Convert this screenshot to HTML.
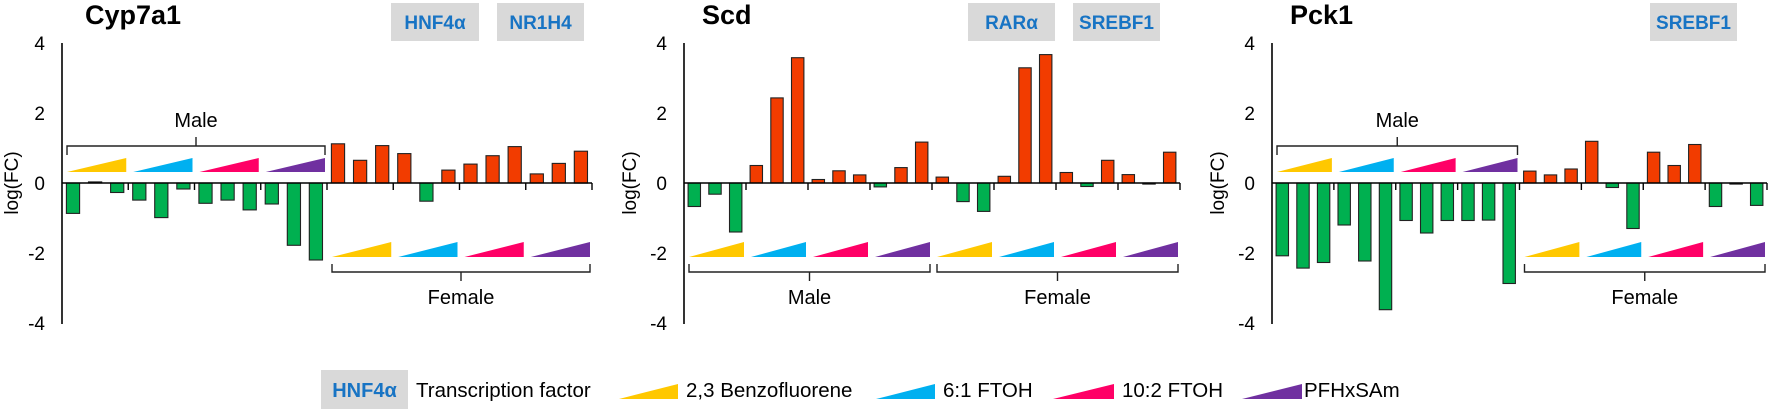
<!DOCTYPE html>
<html><head><meta charset="utf-8"><style>
html,body{margin:0;padding:0;background:#fff;}
svg{display:block;font-family:"Liberation Sans",Arial,sans-serif;}
</style></head><body>
<svg id="s" width="1772" height="412" viewBox="0 0 1772 412" xmlns="http://www.w3.org/2000/svg"></svg>
<script>
var s=document.getElementById('s');var h='';
var Z=183,U=35;
var cols=['#ffc800','#00b0f0','#ff0066','#7030a0'];
function tri(x1,x2,yt,yb,c){return '<polygon points="'+x1+','+yb+' '+x2+','+yb+' '+x2+','+yt+'" fill="'+c+'"/>';}
function box(x1,x2,t){return '<rect x="'+x1+'" y="3" width="'+(x2-x1)+'" height="38" fill="#d9d9d9"/><text x="'+((x1+x2)/2)+'" y="29" font-size="19" font-weight="bold" fill="#1874c4" text-anchor="middle">'+t+'</text>';}
function panel(o){
 var a=o.ax,e=o.end,sl=(e-a)/24,gw=sl*3;
 h+='<text x="'+o.tx+'" y="24" font-size="27" font-weight="bold">'+o.title+'</text>';
 o.boxes.forEach(function(b){h+=box(b[0],b[1],b[2]);});
 [4,2,0,-2,-4].forEach(function(v){h+='<text x="'+(a-17)+'" y="'+(Z-v*U+7)+'" font-size="19" text-anchor="end">'+v+'</text>';});
 h+='<text transform="translate('+o.lx+','+Z+') rotate(-90)" font-size="19" text-anchor="middle">log(FC)</text>';
 o.d.forEach(function(v,i){var x=a+i*sl+sl*0.2,w=sl*0.6;var y=v>=0?Z-v*U:Z,hh=Math.abs(v)*U;
  h+='<rect x="'+x.toFixed(1)+'" y="'+y.toFixed(1)+'" width="'+w.toFixed(1)+'" height="'+Math.max(hh,1).toFixed(1)+'" fill="'+(v>=0?'#f23c00':'#00b050')+'" stroke="#222" stroke-width="1.1"/>';});
 h+='<line x1="'+a+'" y1="43" x2="'+a+'" y2="324" stroke="#000" stroke-width="1.6"/>';
 h+='<line x1="'+a+'" y1="'+Z+'" x2="'+e+'" y2="'+Z+'" stroke="#000" stroke-width="1.6"/>';
 for(var k=1;k<=8;k++){var tx=a+k*gw;h+='<line x1="'+tx+'" y1="'+Z+'" x2="'+tx+'" y2="'+(Z+7)+'" stroke="#000" stroke-width="1.4"/>';}
 o.sex.forEach(function(sx,gi){
  var g0=a+gi*4*gw,g1=g0+4*gw;
  for(var k=0;k<4;k++){var gs=g0+k*gw;
   if(sx=='top')h+=tri(gs+5,gs+gw-2,158,172,cols[k]);else h+=tri(gs+5,gs+gw-2,242,257,cols[k]);}
  var lab=gi==0?'Male':'Female',bx1=g0+5,bx2=g1-2,m=(bx1+bx2)/2;
  if(sx=='top'){h+='<path d="M'+bx1+',155 V146 H'+bx2+' V155 M'+m+',146 V137" fill="none" stroke="#222" stroke-width="1.4"/>';
   h+='<text x="'+m+'" y="127" font-size="20" text-anchor="middle">'+lab+'</text>';}
  else{h+='<path d="M'+bx1+',264 V272 H'+bx2+' V264 M'+m+',272 V281" fill="none" stroke="#222" stroke-width="1.4"/>';
   h+='<text x="'+m+'" y="304" font-size="20" text-anchor="middle">'+lab+'</text>';}
 });
}
panel({ax:62,end:592,tx:85,title:'Cyp7a1',lx:18,boxes:[[391,479,'HNF4α'],[497,584,'NR1H4']],sex:['top','bot'],
 d:[-0.87,0.03,-0.27,-0.49,-0.99,-0.17,-0.58,-0.49,-0.77,-0.6,-1.78,-2.2,1.12,0.65,1.07,0.84,-0.52,0.37,0.54,0.78,1.04,0.26,0.56,0.91]});
panel({ax:684,end:1180,tx:702,title:'Scd',lx:636,boxes:[[968,1055,'RARα'],[1073,1160,'SREBF1']],sex:['bot','bot'],
 d:[-0.67,-0.32,-1.4,0.5,2.43,3.58,0.1,0.35,0.23,-0.11,0.44,1.17,0.17,-0.53,-0.81,0.19,3.29,3.67,0.3,-0.1,0.65,0.24,-0.03,0.88]});
panel({ax:1272,end:1767,tx:1290,title:'Pck1',lx:1224,boxes:[[1650,1737,'SREBF1']],sex:['top','bot'],
 d:[-2.08,-2.43,-2.27,-1.2,-2.23,-3.62,-1.07,-1.43,-1.07,-1.07,-1.06,-2.87,0.34,0.23,0.4,1.19,-0.13,-1.3,0.88,0.5,1.1,-0.67,-0.03,-0.64]});
h+='<rect x="321" y="370" width="87" height="39" fill="#d9d9d9"/><text x="364.5" y="397" font-size="20" font-weight="bold" fill="#1874c4" text-anchor="middle">HNF4α</text>';
h+='<text x="416" y="397" font-size="20.5">Transcription factor</text>';
h+=tri(619,678,384,399,cols[0])+'<text x="686" y="397" font-size="20.5">2,3 Benzofluorene</text>';
h+=tri(876,935,384,399,cols[1])+'<text x="943" y="397" font-size="20.5">6:1 FTOH</text>';
h+=tri(1053,1114,384,399,cols[2])+'<text x="1122" y="397" font-size="20.5">10:2 FTOH</text>';
h+=tri(1242,1302,384,399,cols[3])+'<text x="1304" y="397" font-size="20.5">PFHxSAm</text>';
s.innerHTML=h;
</script>
</body></html>
